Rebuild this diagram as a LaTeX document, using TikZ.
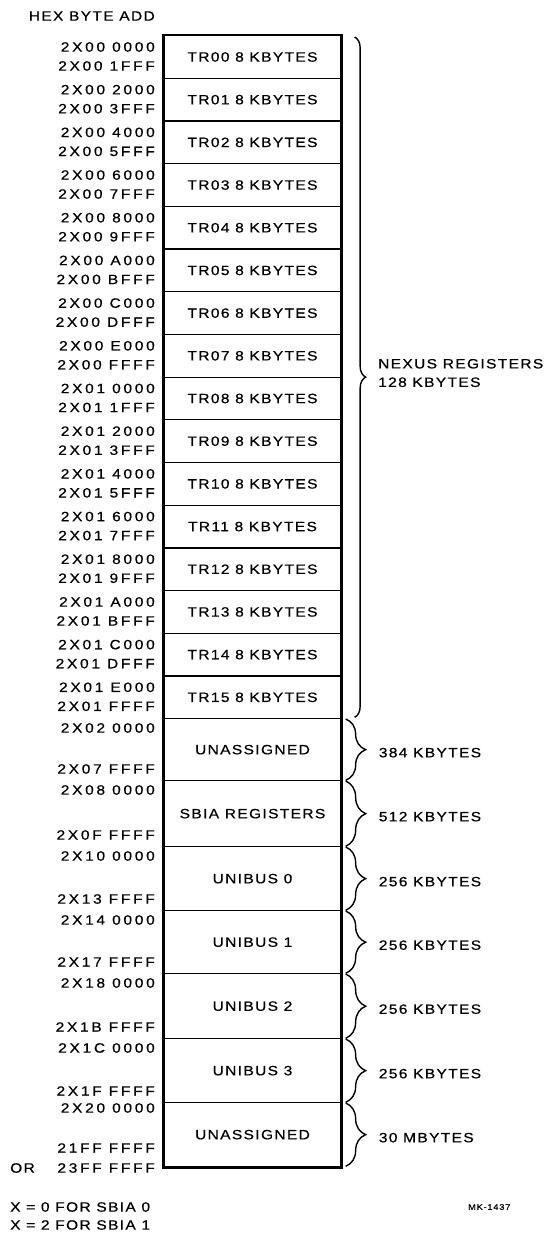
\documentclass[tikz,border=0pt]{standalone}
\usepackage{fontspec}
\setmainfont{Liberation Sans}[FakeStretch=1.15,LetterSpace=10,FakeBold=0.6]
\usetikzlibrary{decorations.pathreplacing}
\begin{document}
\begin{tikzpicture}[x=1pt,y=-1pt,
  every node/.style={font=\fontsize{13.5}{13.5}\selectfont, inner sep=0pt},
  rowbox/.style={draw, line width=1.3pt, minimum width=177pt, anchor=north},
  addr/.style={anchor=east, font=\fontsize{13.5}{13.5}\selectfont\addfontfeature{LetterSpace=20}},
  sizelbl/.style={anchor=west},
  bracestyle/.style={decorate, decoration={brace, amplitude=#1}, line width=1.4pt},
  frame/.style={line width=2.6pt}
]
\useasboundingbox (0,0) rectangle (548,1237);
\def\bx{252.5}
% header
\node[anchor=east] (hdr) at (155,16) {HEX BYTE ADD};
% TR rows
\foreach \i/\s/\e in {0/0000/1FFF,1/2000/3FFF,2/4000/5FFF,3/6000/7FFF,4/8000/9FFF,5/A000/BFFF,6/C000/DFFF,7/E000/FFFF}{
  \pgfmathsetmacro{\t}{35+\i*42.6875}
  \node[rowbox, minimum height=42.6875pt] (tr\i) at (\bx,\t) {TR0\i\ 8 KBYTES};
  \node[addr] (as\i) at (155,\t+12) {2X00 \s};
  \node[addr] (ae\i) at (155,\t+31) {2X00 \e};
}
\foreach \i/\n/\s/\e in {8/08/0000/1FFF,9/09/2000/3FFF,10/10/4000/5FFF,11/11/6000/7FFF,12/12/8000/9FFF,13/13/A000/BFFF,14/14/C000/DFFF,15/15/E000/FFFF}{
  \pgfmathsetmacro{\t}{35+\i*42.6875}
  \node[rowbox, minimum height=42.6875pt] (tr\i) at (\bx,\t) {TR\n\ 8 KBYTES};
  \node[addr] (as\i) at (155,\t+12) {2X01 \s};
  \node[addr] (ae\i) at (155,\t+31) {2X01 \e};
}
% big rows
\foreach \n/\t/\h/\lab/\s/\e/\sz in {
  u1/718/62/UNASSIGNED/2X02 0000/2X07 FFFF/384 KBYTES,
  sb/780/66/SBIA REGISTERS/2X08 0000/2X0F FFFF/512 KBYTES,
  ub0/846/64/UNIBUS 0/2X10 0000/2X13 FFFF/256 KBYTES,
  ub1/910/63/UNIBUS 1/2X14 0000/2X17 FFFF/256 KBYTES,
  ub2/973/65/UNIBUS 2/2X18 0000/2X1B FFFF/256 KBYTES,
  ub3/1038/64/UNIBUS 3/2X1C 0000/2X1F FFFF/256 KBYTES}{
  \node[rowbox, minimum height=\h pt] (\n) at (\bx,\t) {\lab};
  \node[addr] (\n s) at (155,\t+10) {\s};
  \node[addr] (\n e) at (155,\t+\h-11) {\e};
  \coordinate (\n bt) at ([xshift=4pt,yshift=-1pt]\n.north east);
  \coordinate (\n bb) at ([xshift=4pt,yshift=1pt]\n.south east);
  \draw[bracestyle=20pt] (\n bt) -- (\n bb);
  \node[sizelbl] (\n z) at ([xshift=37pt,yshift=-3pt]\n.east) {\sz};
}
% last row
\node[rowbox, minimum height=64pt] (u2) at (\bx,1102) {UNASSIGNED};
\node[addr] (u2s) at (155,1108) {2X20 0000};
\node[addr] (u2e) at (155,1148) {21FF FFFF};
\node[addr] (u2o) at (155,1168) {23FF FFFF};
\node[anchor=west] (or) at (10,1168) {OR};
\coordinate (u2bt) at ([xshift=4pt,yshift=-1pt]u2.north east);
\coordinate (u2bb) at ([xshift=4pt,yshift=1pt]u2.south east);
\draw[bracestyle=20pt] (u2bt) -- (u2bb);
\node[sizelbl] (u2z) at ([xshift=37pt,yshift=-3pt]u2.east) {30 MBYTES};
% outer frame
\draw[frame] (tr0.north west) rectangle (u2.south east);
% nexus brace
\coordinate (nxt) at ([xshift=13pt,yshift=-2pt]tr0.north east);
\coordinate (nxb) at ([xshift=13pt,yshift=2pt]tr15.south east);
\draw[bracestyle=11pt] (nxt) -- (nxb);
\node[anchor=west, align=left] (nx) at (378,373) {NEXUS REGISTERS\\[5pt]128 KBYTES};
% footer
\node[anchor=west] (f1) at (10,1207) {X = 0 FOR SBIA 0};
\node[anchor=west] (f2) at (10,1225) {X = 2 FOR SBIA 1};
\node[anchor=west, font=\fontsize{8}{8}\selectfont] (fig) at (468,1207) {MK-1437};
\end{tikzpicture}
\end{document}
